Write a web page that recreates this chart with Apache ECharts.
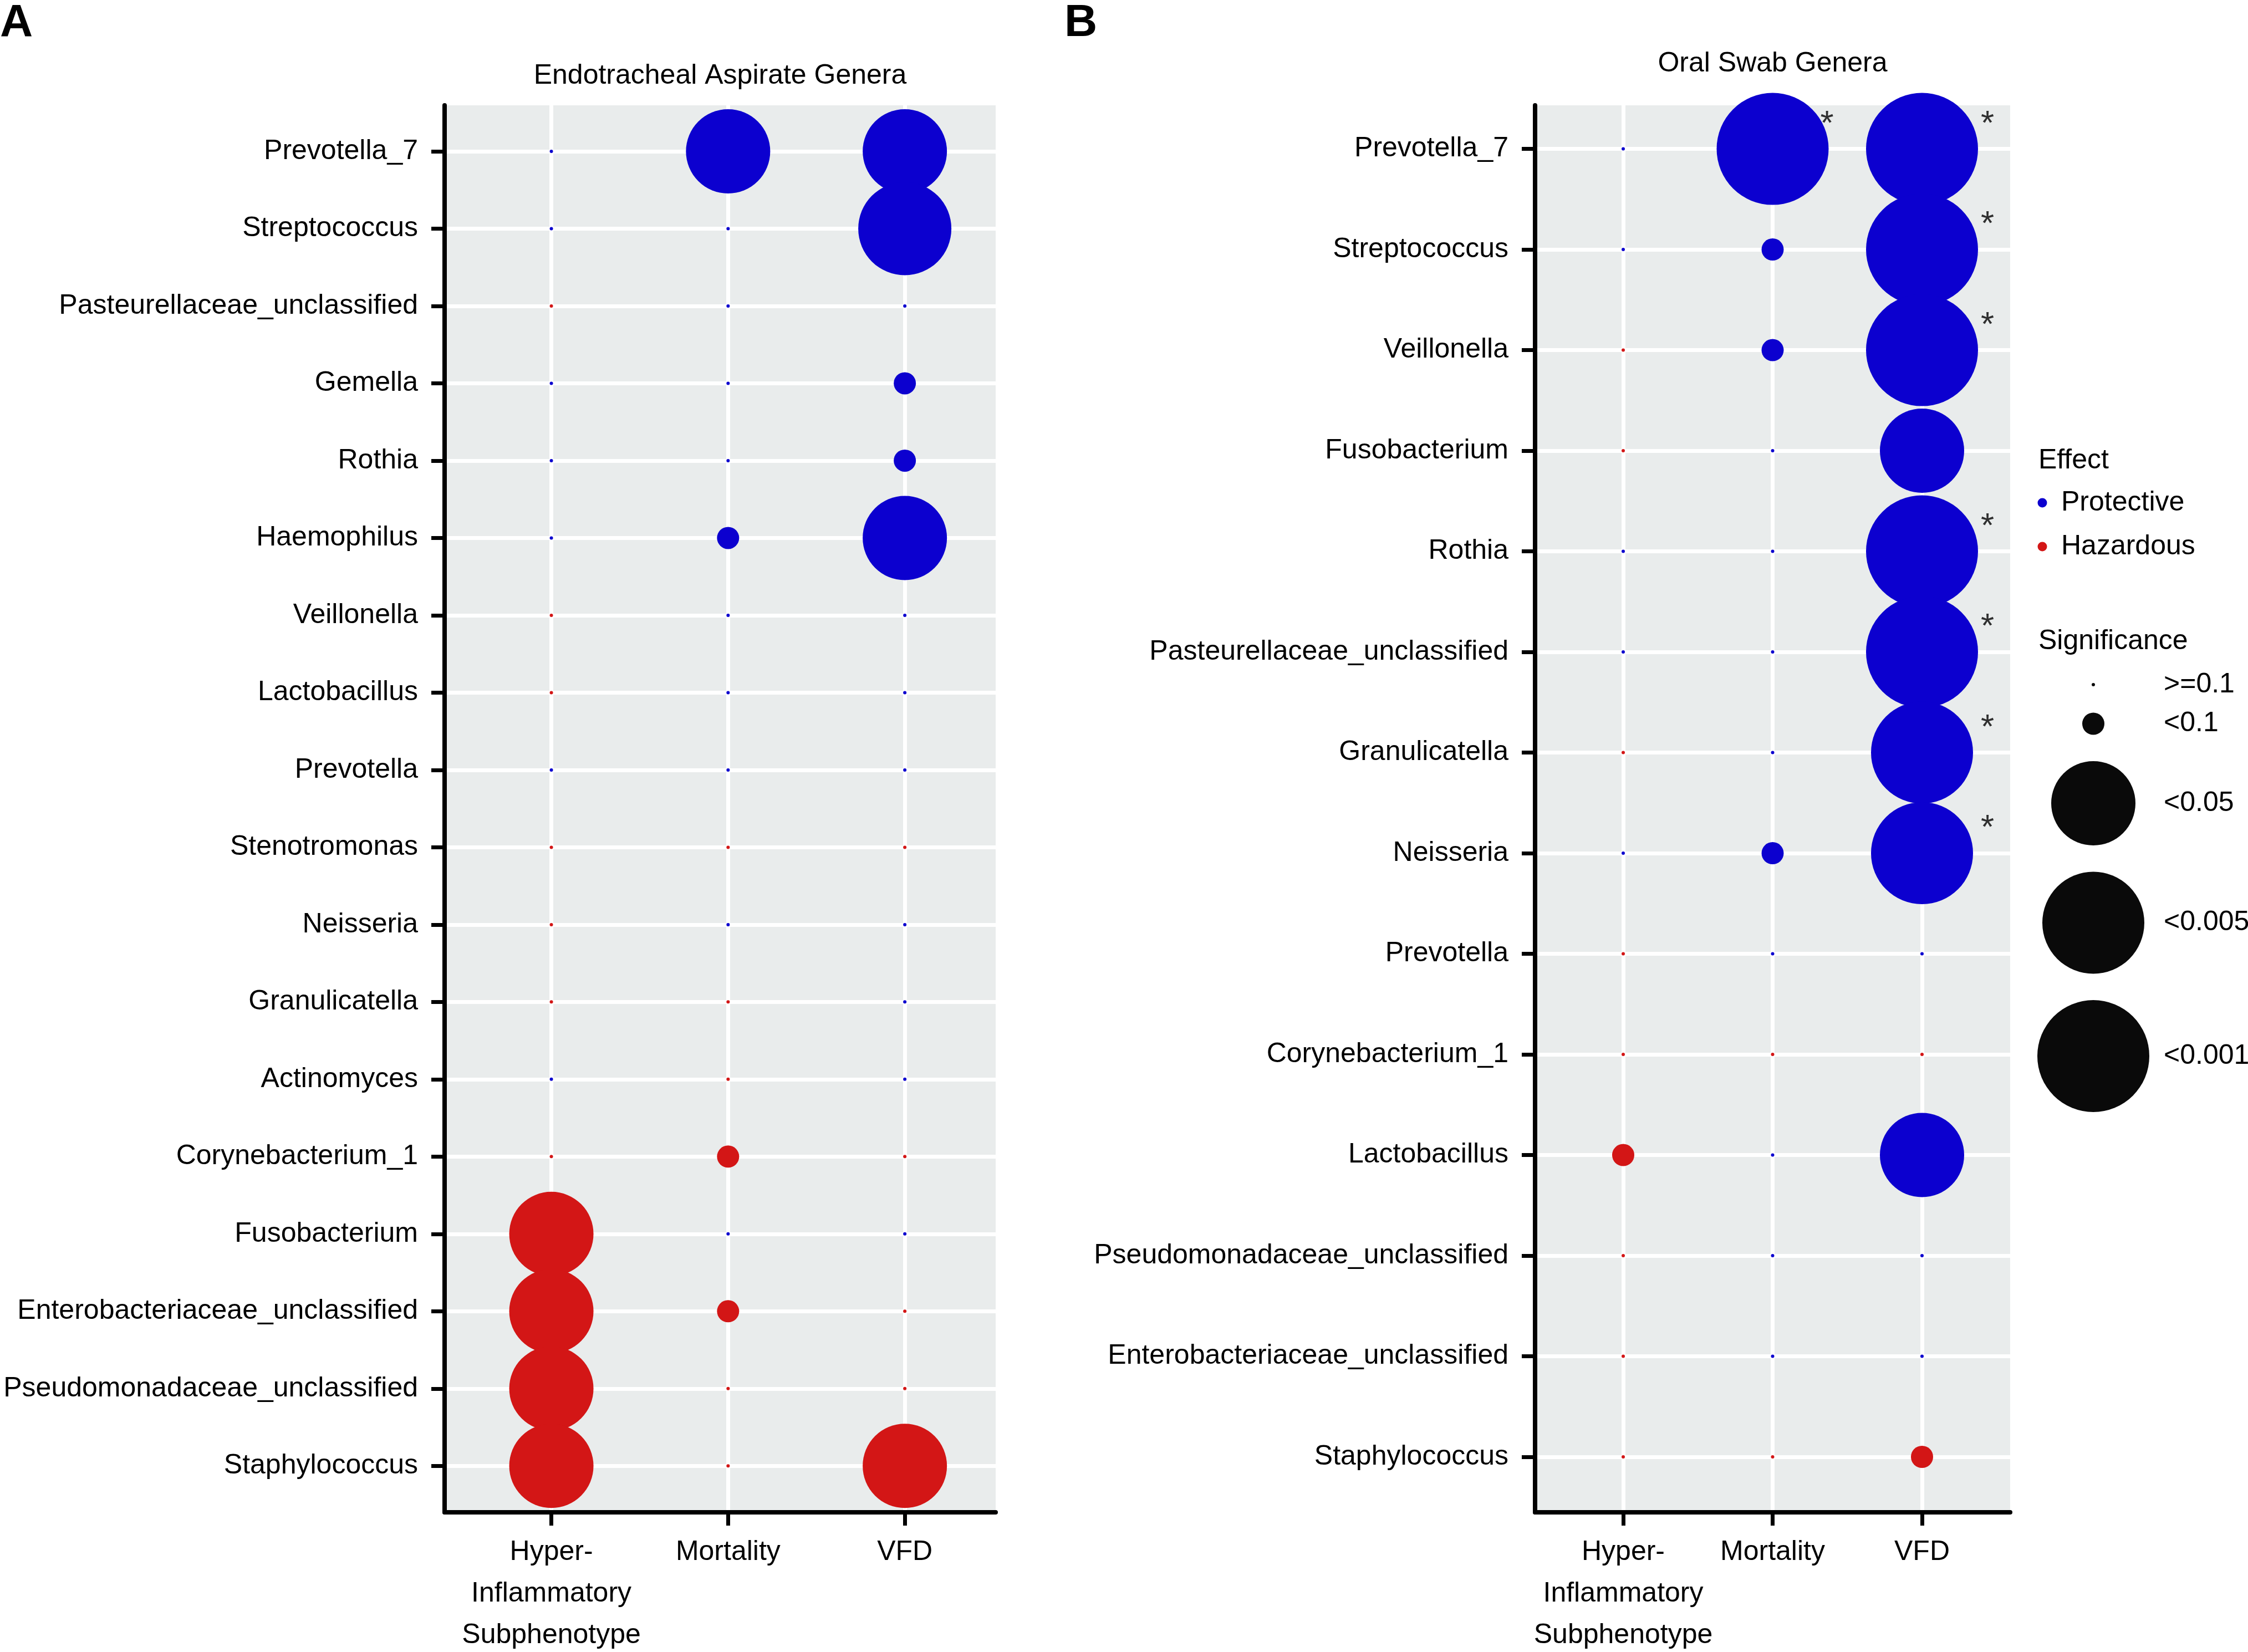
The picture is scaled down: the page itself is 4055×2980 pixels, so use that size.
<!DOCTYPE html>
<html><head><meta charset="utf-8">
<script src="https://cdn.jsdelivr.net/npm/echarts@6/dist/echarts.min.js"></script>
<style>html,body{margin:0;padding:0;background:#fff}#c{width:4055px;height:2980px}</style>
</head><body><div id="c"></div>
<script>
// ---------- data ----------
const outcomes = ['Hyper-\nInflammatory\nSubphenotype', 'Mortality', 'VFD'];
const sigLevels = ['>=0.1', '<0.1', '<0.05', '<0.005', '<0.001'];
const effectCodes = ['P', 'H'];
const effectNames = { P: 'Protective', H: 'Hazardous' };

const generaA = ['Prevotella_7', 'Streptococcus', 'Pasteurellaceae_unclassified', 'Gemella', 'Rothia', 'Haemophilus',
  'Veillonella', 'Lactobacillus', 'Prevotella', 'Stenotromonas', 'Neisseria', 'Granulicatella', 'Actinomyces',
  'Corynebacterium_1', 'Fusobacterium', 'Enterobacteriaceae_unclassified', 'Pseudomonadaceae_unclassified', 'Staphylococcus'];
const effectA_hyper = ['P','P','H','P','P','P','H','H','P','H','H','H','P','H','H','H','H','H'];
const effectA_mort  = ['P','P','P','P','P','P','P','P','P','H','P','H','H','H','P','H','H','H'];
const effectA_vfd   = ['P','P','P','P','P','P','P','P','P','H','P','P','P','H','P','H','H','H'];
const sigA_hyper = ['>=0.1','>=0.1','>=0.1','>=0.1','>=0.1','>=0.1','>=0.1','>=0.1','>=0.1','>=0.1','>=0.1','>=0.1','>=0.1','>=0.1','<0.05','<0.05','<0.05','<0.05'];
const sigA_mort  = ['<0.05','>=0.1','>=0.1','>=0.1','>=0.1','<0.1','>=0.1','>=0.1','>=0.1','>=0.1','>=0.1','>=0.1','>=0.1','<0.1','>=0.1','<0.1','>=0.1','>=0.1'];
const sigA_vfd   = ['<0.05','<0.005','>=0.1','<0.1','<0.1','<0.05','>=0.1','>=0.1','>=0.1','>=0.1','>=0.1','>=0.1','>=0.1','>=0.1','>=0.1','>=0.1','>=0.1','<0.05'];

const generaB = ['Prevotella_7', 'Streptococcus', 'Veillonella', 'Fusobacterium', 'Rothia', 'Pasteurellaceae_unclassified',
  'Granulicatella', 'Neisseria', 'Prevotella', 'Corynebacterium_1', 'Lactobacillus', 'Pseudomonadaceae_unclassified',
  'Enterobacteriaceae_unclassified', 'Staphylococcus'];
const effectB_hyper = ['P','P','H','H','P','P','H','P','H','H','H','H','H','H'];
const effectB_mort  = ['P','P','P','P','P','P','P','P','P','H','P','P','P','H'];
const effectB_vfd   = ['P','P','P','P','P','P','P','P','P','H','P','P','P','H'];
const sigB_hyper = ['>=0.1','>=0.1','>=0.1','>=0.1','>=0.1','>=0.1','>=0.1','>=0.1','>=0.1','>=0.1','<0.1','>=0.1','>=0.1','>=0.1'];
const sigB_mort  = ['<0.001','<0.1','<0.1','>=0.1','>=0.1','>=0.1','>=0.1','<0.1','>=0.1','>=0.1','>=0.1','>=0.1','>=0.1','>=0.1'];
const sigB_vfd   = ['<0.001','<0.001','<0.001','<0.05','<0.001','<0.001','<0.005','<0.005','>=0.1','>=0.1','<0.05','>=0.1','>=0.1','<0.1'];
const starB_hyper = [0,0,0,0,0,0,0,0,0,0,0,0,0,0];
const starB_mort  = [1,0,0,0,0,0,0,0,0,0,0,0,0,0];
const starB_vfd   = [1,1,1,0,1,1,1,1,0,0,0,0,0,0];

// ---------- styles ----------
const FONT = '"Liberation Sans", Arial, Helvetica, sans-serif';
const BG = '#E9ECEC';
const COLORS = { P: '#0C00CF', H: '#D31616' };
const sizeA = { '>=0.1': 6, '<0.1': 40, '<0.05': 152, '<0.005': 168, '<0.001': 168 };
const sizeB = { '>=0.1': 6, '<0.1': 40, '<0.05': 152, '<0.005': 184, '<0.001': 202 };
const starDx = [118, 98, 118];   // label offset per outcome column (px)

function buildPoints(genera, effects, sigs, sizeMap) {
  const pts = [];
  effects.forEach((effCol, xi) => {
    genera.forEach((g, yi) => {
      pts.push({
        name: g,
        value: [xi, yi],
        symbolSize: sizeMap[sigs[xi][yi]],
        itemStyle: { color: COLORS[effCol[yi]], opacity: 1 }
      });
    });
  });
  return pts;
}
function buildStars(genera, stars) {
  const pts = [];
  stars.forEach((col, xi) => col.forEach((s, yi) => {
    if (s) pts.push({ name: genera[yi], value: [xi, yi], label: { offset: [starDx[xi], -44] } });
  }));
  return pts;
}

const ptsA = buildPoints(generaA, [effectA_hyper, effectA_mort, effectA_vfd], [sigA_hyper, sigA_mort, sigA_vfd], sizeA);
const ptsB = buildPoints(generaB, [effectB_hyper, effectB_mort, effectB_vfd], [sigB_hyper, sigB_mort, sigB_vfd], sizeB);
const starsB = buildStars(generaB, [starB_hyper, starB_mort, starB_vfd]);

function xAxisCfg(gi, min, max) {
  const idx = outcomes.map((_, i) => i);
  return {
    gridIndex: gi, type: 'value', min: min, max: max, position: 'bottom',
    axisLine: { show: true, onZero: false, lineStyle: { color: '#000', width: 8 } },
    axisTick: { show: true, length: 24, customValues: idx, lineStyle: { color: '#000', width: 7 } },
    axisLabel: { show: true, customValues: idx, formatter: v => outcomes[Math.round(v)] || '',
      fontSize: 50, lineHeight: 75, color: '#000', fontFamily: FONT, margin: 35, align: 'center' },
    splitLine: { show: true, lineStyle: { color: '#fff', width: 7 } },
    minorTick: { show: false }, minorSplitLine: { show: false }
  };
}
function yAxisCfg(gi, names, min, max) {
  const idx = names.map((_, i) => i);
  return {
    gridIndex: gi, type: 'value', inverse: true, min: min, max: max, position: 'left',
    axisLine: { show: true, onZero: false, lineStyle: { color: '#000', width: 8 } },
    axisTick: { show: true, length: 24, customValues: idx, lineStyle: { color: '#000', width: 7 } },
    axisLabel: { show: true, customValues: idx, formatter: v => names[Math.round(v)] || '',
      fontSize: 50, color: '#000', fontFamily: FONT, margin: 48 },
    splitLine: { show: true, lineStyle: { color: '#fff', width: 7 } },
    minorTick: { show: false }, minorSplitLine: { show: false }
  };
}

// legend layout (pixel positions)
const effLegendY = [907, 986];
const sigLegendY = [1235, 1305.5, 1449, 1664.6, 1905];
function txt(text, x, y, size, align, weight) {
  return { type: 'text', x: x, y: y, silent: true,
    style: { text: text, fill: '#000', fontSize: size, fontFamily: FONT, fontWeight: weight || 'normal',
      align: align, verticalAlign: 'middle', textAlign: align, textVerticalAlign: 'middle' } };
}
const graphics = [
  txt('A', 0, 42.6, 82, 'left', 'bold'),
  txt('B', 1920, 42.6, 82, 'left', 'bold'),
  txt('Endotracheal Aspirate Genera', 1299, 137.7, 50, 'center'),
  txt('Oral Swab Genera', 3197.5, 115.7, 50, 'center'),
  txt('Effect', 3677, 831, 50, 'left'),
  txt('Significance', 3677, 1157, 50, 'left')
];
effectCodes.forEach((c, i) => {
  graphics.push({ type: 'circle', silent: true, shape: { cx: 3684, cy: effLegendY[i], r: 8.5 }, style: { fill: COLORS[c] } });
  graphics.push(txt(effectNames[c], 3718, effLegendY[i], 50, 'left'));
});
sigLevels.forEach((s, i) => {
  graphics.push({ type: 'circle', silent: true, shape: { cx: 3776, cy: sigLegendY[i], r: sizeB[s] / 2 }, style: { fill: '#0A0A0A' } });
  graphics.push(txt(s, 3903, sigLegendY[i], 50, 'left'));
});

const chart = echarts.init(document.getElementById('c'), null, { renderer: 'canvas', width: 4055, height: 2980 });
chart.setOption({
  animation: false,
  backgroundColor: '#fff',
  grid: [
    { left: 802, top: 190, width: 994, height: 2538, show: true, backgroundColor: BG, borderWidth: 0,
      containLabel: false, outerBoundsMode: 'none' },
    { left: 2769, top: 190, width: 857, height: 2538, show: true, backgroundColor: BG, borderWidth: 0,
      containLabel: false, outerBoundsMode: 'none' }
  ],
  xAxis: [xAxisCfg(0, -0.604, 2.514), xAxisCfg(1, -0.59, 2.59)],
  yAxis: [yAxisCfg(0, generaA, -0.595, 17.6), yAxisCfg(1, generaB, -0.433, 13.551)],
  series: [
    { type: 'scatter', name: 'Endotracheal Aspirate', xAxisIndex: 0, yAxisIndex: 0, symbol: 'circle', data: ptsA, silent: true, clip: false, z: 3,
      itemStyle: { opacity: 1 } },
    { type: 'scatter', name: 'Oral Swab', xAxisIndex: 1, yAxisIndex: 1, symbol: 'circle', data: ptsB, silent: true, clip: false, z: 3,
      itemStyle: { opacity: 1 } },
    { type: 'scatter', name: 'FDR', xAxisIndex: 1, yAxisIndex: 1, symbol: 'circle', symbolSize: 1, data: starsB, silent: true, clip: false, z: 5,
      itemStyle: { color: 'rgba(0,0,0,0)' },
      label: { show: true, position: 'inside', formatter: '*', fontSize: 62, color: '#000', fontFamily: FONT } }
  ],
  graphic: graphics
});
</script>
</body></html>
